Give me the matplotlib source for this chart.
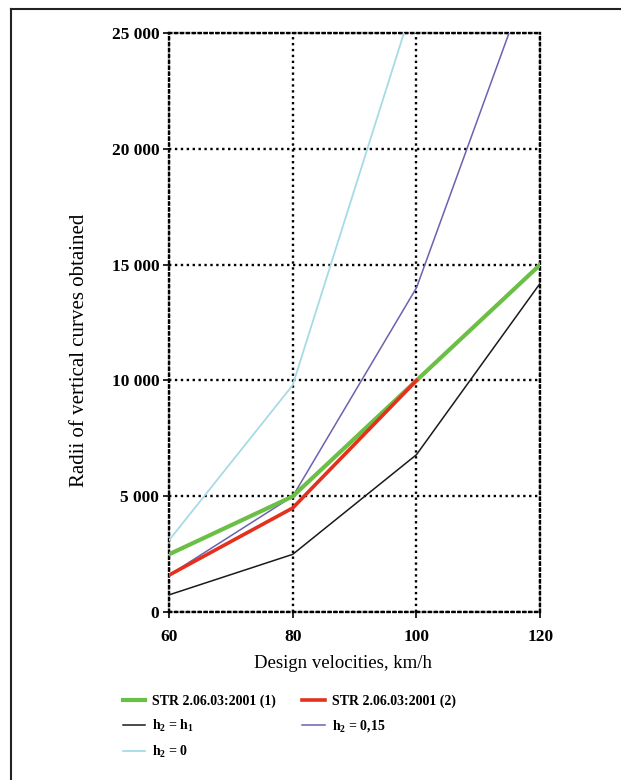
import matplotlib
matplotlib.use("Agg")
import matplotlib.pyplot as plt
from matplotlib.lines import Line2D
from matplotlib.ticker import FuncFormatter

plt.rcParams['font.family'] = ['Liberation Serif', 'DejaVu Serif']
plt.rcParams['mathtext.fontset'] = 'custom'
plt.rcParams['mathtext.rm'] = 'Liberation Serif:bold'
plt.rcParams['mathtext.it'] = 'Liberation Serif:bold'
plt.rcParams['mathtext.bf'] = 'Liberation Serif:bold'

# data
speeds = [60, 80, 100, 120]
str_1 = [2500, 5000, 10000, 15000]
str_2_speeds = [60, 80, 100]
str_2 = [1600, 4500, 10000]
h2_h1 = [750, 2500, 6800, 14200]
h2_015 = [1600, 5000, 14000, 28700]
h2_0_speeds = [60, 80, 100]
h2_0 = [3100, 9800, 26700]

fig = plt.figure(figsize=(6.21, 7.80), dpi=100)
ax = fig.add_axes([0.272, 0.215, 0.598, 0.743])

ax.plot(speeds, h2_h1, color='#1a1a1a', lw=1.1, label='h$_2$ = h$_1$', zorder=3)
ax.plot(h2_0_speeds, h2_0, color='#a6dbe6', lw=1.3, label='h$_2$ = 0', zorder=3)
ax.plot(speeds, h2_015, color='#6a62b0', lw=1.1, label='h$_2$ = 0,15', zorder=3)
ax.plot(speeds, str_1, color='#6cbf45', lw=3.0, label='STR 2.06.03:2001 (1)', zorder=4)
ax.plot(str_2_speeds, str_2, color='#e4311d', lw=2.6, label='STR 2.06.03:2001 (2)', zorder=5)

ax.set_xlim(60, 120)
ax.set_ylim(0, 25000)
ax.set_xticks(speeds)
ax.set_yticks([0, 5000, 10000, 15000, 20000, 25000])
ax.yaxis.set_major_formatter(FuncFormatter(lambda v, p: f"{int(v):,}".replace(",", " ")))
ax.tick_params(axis='both', direction='out', length=4, width=1.2, labelsize=12.5)
ax.tick_params(axis='x', pad=8)
ax.tick_params(axis='y', pad=3)
for lab in ax.get_xticklabels() + ax.get_yticklabels():
    lab.set_fontweight('bold')

ax.grid(True, color='black', linestyle=(0, (1, 1.5)), linewidth=1.7, zorder=1)
for s in ax.spines.values():
    s.set_linestyle((0, (1, 1.5)))
    s.set_linewidth(1.7)

ax.set_xlabel('Design velocities, km/h', fontsize=13.5, va='center')
ax.xaxis.set_label_coords(0.469, -0.088)
ax.set_ylabel('Radii of vertical curves obtained', fontsize=15, va='center')
ax.yaxis.set_label_coords(-0.24, 0.4525)

# legend order: two columns filled column by column
handles, labels = ax.get_legend_handles_labels()
order = [3, 0, 1, 4, 2]
leg = fig.legend([handles[i] for i in order], [labels[i] for i in order],
                 loc='upper left', bbox_to_anchor=(0.178, 0.125), ncol=2,
                 frameon=False, handlelength=1.6, columnspacing=1.9,
                 labelspacing=0.7, handletextpad=0.5,
                 prop={'family': 'Liberation Serif', 'weight': 'bold', 'size': 10})

# outer frame (left and top only)
fig.add_artist(Line2D([0.018, 0.018], [0.0, 0.988], color='#222222', lw=1.5))
fig.add_artist(Line2D([0.018, 1.0], [0.988, 0.988], color='#222222', lw=1.5))

fig.savefig('out.png', dpi=100)
